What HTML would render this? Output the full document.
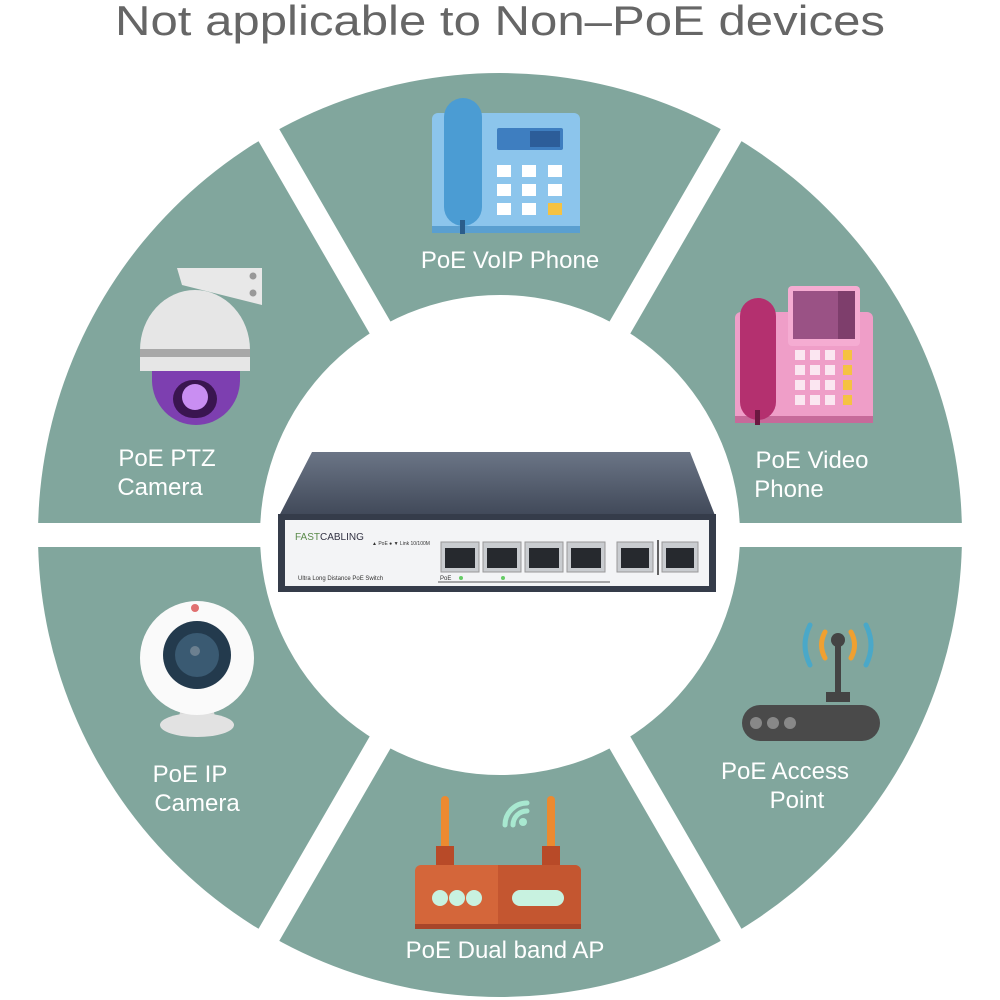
<!DOCTYPE html>
<html><head><meta charset="utf-8"><style>
html,body{margin:0;padding:0;background:#fff;}
svg{display:block;}
text{font-family:"Liberation Sans",sans-serif;}
</style></head><body>
<svg width="1000" height="1000" viewBox="0 0 1000 1000" xmlns="http://www.w3.org/2000/svg">
<defs>
<linearGradient id="lid" x1="0" y1="0" x2="0" y2="1"><stop offset="0" stop-color="#6b7586"/><stop offset="1" stop-color="#3f4757"/></linearGradient>
</defs>
<rect width="1000" height="1000" fill="#fff"/>
<text x="500" y="35" text-anchor="middle" font-size="42" fill="#666" textLength="770" lengthAdjust="spacingAndGlyphs">Not applicable to Non–PoE devices</text>
<!-- ring -->
<circle cx="500" cy="535" r="462" fill="#81a69d"/>
<circle cx="500" cy="535" r="240" fill="#fff"/>
<g stroke="#fff" stroke-width="24">
<line x1="0" y1="535" x2="1000" y2="535"/>
<line x1="500" y1="535" x2="500" y2="535" />
<line x1="211" y1="35" x2="789" y2="1035"/>
<line x1="789" y1="35" x2="211" y2="1035"/>
</g>
<rect x="0" y="0" width="1000" height="60" fill="#fff"/>
<text x="500" y="35" text-anchor="middle" font-size="42" fill="#666" textLength="770" lengthAdjust="spacingAndGlyphs">Not applicable to Non–PoE devices</text>

<!-- labels -->
<g fill="#fff" font-size="24" text-anchor="middle">
<text x="510" y="268">PoE VoIP Phone</text>
<text x="167" y="466">PoE PTZ</text><text x="160" y="495">Camera</text>
<text x="812" y="468">PoE Video</text><text x="789" y="497">Phone</text>
<text x="190" y="782">PoE IP</text><text x="197" y="811">Camera</text>
<text x="785" y="779">PoE Access</text><text x="797" y="808">Point</text>
<text x="505" y="958">PoE Dual band AP</text>
</g>

<!-- VoIP phone -->
<rect x="432" y="113" width="148" height="120" rx="6" fill="#8cc5ec"/>
<rect x="432" y="226" width="148" height="7" fill="#5a9fd0"/>
<rect x="444" y="98" width="38" height="128" rx="19" fill="#4b9cd3"/>
<rect x="460" y="220" width="5" height="14" fill="#2b5d8a"/>
<rect x="497" y="128" width="66" height="22" rx="2" fill="#3e7ec0"/>
<rect x="530" y="131" width="30" height="16" fill="#2c5d99"/>
<g fill="#fff">
<rect x="497" y="165" width="14" height="12"/><rect x="522" y="165" width="14" height="12"/>
<rect x="497" y="184" width="14" height="12"/><rect x="522" y="184" width="14" height="12"/><rect x="548" y="184" width="14" height="12"/>
<rect x="497" y="203" width="14" height="12"/><rect x="522" y="203" width="14" height="12"/>
</g>
<rect x="548" y="165" width="14" height="12" fill="#fff"/>
<rect x="548" y="203" width="14" height="12" fill="#f5c242"/>

<!-- PTZ camera -->
<polygon points="177,268 262,268 262,305 182,285" fill="#e8e8e8"/>
<circle cx="253" cy="276" r="3.5" fill="#999"/><circle cx="253" cy="293" r="3.5" fill="#999"/>
<path d="M140,350 A55,60 0 0 1 250,350 Z" fill="#e6e6e6"/>
<rect x="140" y="349" width="110" height="8" fill="#a8a8a8"/>
<rect x="140" y="357" width="110" height="14" fill="#e6e6e6"/>
<path d="M152,371 L240,371 L240,380 A44,45 0 0 1 152,380 Z" fill="#7d3fb0"/>
<rect x="173" y="380" width="44" height="38" rx="20" fill="#3a1550"/>
<circle cx="195" cy="397" r="13" fill="#c98ef2"/>

<!-- Video phone -->
<rect x="735" y="312" width="138" height="110" rx="6" fill="#ef9ec8"/>
<rect x="735" y="416" width="138" height="7" fill="#c76a9a"/>
<rect x="788" y="286" width="72" height="60" rx="4" fill="#f5acd2"/>
<rect x="793" y="291" width="62" height="48" fill="#9a5285"/>
<rect x="838" y="291" width="17" height="48" fill="#7e3e6c"/>
<rect x="740" y="298" width="36" height="122" rx="18" fill="#b4306f"/>
<rect x="755" y="410" width="5" height="15" fill="#6a1840"/>
<g fill="#fbe6f1">
<rect x="795" y="350" width="10" height="10"/><rect x="810" y="350" width="10" height="10"/><rect x="825" y="350" width="10" height="10"/>
<rect x="795" y="365" width="10" height="10"/><rect x="810" y="365" width="10" height="10"/><rect x="825" y="365" width="10" height="10"/>
<rect x="795" y="380" width="10" height="10"/><rect x="810" y="380" width="10" height="10"/><rect x="825" y="380" width="10" height="10"/>
<rect x="795" y="395" width="10" height="10"/><rect x="810" y="395" width="10" height="10"/><rect x="825" y="395" width="10" height="10"/>
</g>
<g fill="#f5c242">
<rect x="843" y="350" width="9" height="10"/><rect x="843" y="365" width="9" height="10"/><rect x="843" y="380" width="9" height="10"/><rect x="843" y="395" width="9" height="10"/>
</g>

<!-- Switch -->
<polygon points="312,452 690,452 716,518 278,518" fill="url(#lid)"/>
<rect x="278" y="514" width="438" height="78" fill="#353c4a"/>
<rect x="285" y="520" width="424" height="66" fill="#f3f4f6"/>
<text x="295" y="540" font-size="10" fill="#5a8a4a">FAST</text><text x="320" y="540" font-size="10" fill="#334">CABLING</text>
<text x="298" y="580" font-size="6" fill="#333">Ultra Long Distance PoE Switch</text>
<text x="372" y="545" font-size="5" fill="#333">▲ PoE ● ▼ Link 10/100M</text>
<g fill="#c9ccd0" stroke="#999" stroke-width="1">
<rect x="441" y="542" width="38" height="30"/><rect x="483" y="542" width="38" height="30"/>
<rect x="525" y="542" width="38" height="30"/><rect x="567" y="542" width="38" height="30"/>
<rect x="617" y="542" width="36" height="30"/><rect x="662" y="542" width="36" height="30"/>
</g>
<g fill="#26292e">
<rect x="445" y="548" width="30" height="20"/><rect x="487" y="548" width="30" height="20"/>
<rect x="529" y="548" width="30" height="20"/><rect x="571" y="548" width="30" height="20"/>
<rect x="621" y="548" width="28" height="20"/><rect x="666" y="548" width="28" height="20"/>
</g>
<line x1="438" y1="582" x2="610" y2="582" stroke="#555" stroke-width="1"/>
<line x1="658" y1="540" x2="658" y2="575" stroke="#333" stroke-width="1.5"/>
<text x="440" y="580" font-size="6" fill="#333">PoE</text>
<circle cx="461" cy="578" r="2" fill="#6c6"/><circle cx="503" cy="578" r="2" fill="#6c6"/>

<!-- IP camera -->
<path d="M182,705 L212,705 L216,720 L178,720 Z" fill="#d8d8d8"/>
<ellipse cx="197" cy="725" rx="37" ry="12" fill="#e2e2e2"/>
<circle cx="197" cy="658" r="57" fill="#fafafa"/>
<circle cx="197" cy="655" r="34" fill="#233a4d"/>
<circle cx="197" cy="655" r="22" fill="#3a5a72"/>
<circle cx="195" cy="651" r="5" fill="#6c8090"/>
<circle cx="195" cy="608" r="4" fill="#e07070"/>

<!-- Access point -->
<g fill="none" stroke-width="5" stroke-linecap="round">
<path d="M825,632 Q818,645 825,658" stroke="#f0a030"/><path d="M851,632 Q858,645 851,658" stroke="#f0a030"/>
<path d="M810,625 Q800,645 810,665" stroke="#4aa8c8"/><path d="M866,625 Q876,645 866,665" stroke="#4aa8c8"/>
</g>
<circle cx="838" cy="640" r="7" fill="#444"/>
<rect x="835" y="640" width="6" height="55" fill="#444"/>
<rect x="826" y="692" width="24" height="10" fill="#444"/>
<rect x="742" y="705" width="138" height="36" rx="18" fill="#4a4a4a"/>
<circle cx="756" cy="723" r="6" fill="#888"/><circle cx="773" cy="723" r="6" fill="#888"/><circle cx="790" cy="723" r="6" fill="#888"/>

<!-- Dual band router -->
<rect x="441" y="796" width="8" height="60" rx="4" fill="#ec8a30"/>
<rect x="547" y="796" width="8" height="60" rx="4" fill="#ec8a30"/>
<rect x="436" y="846" width="18" height="22" fill="#b84a28"/>
<rect x="542" y="846" width="18" height="22" fill="#b84a28"/>
<rect x="415" y="865" width="166" height="64" rx="6" fill="#d4663a"/>
<path d="M498,865 L575,865 A6,6 0 0 1 581,871 L581,923 A6,6 0 0 1 575,929 L498,929 Z" fill="#c45630"/>
<rect x="415" y="924" width="166" height="5" fill="#a8452a"/>
<g fill="#c8f2e0"><circle cx="440" cy="898" r="8"/><circle cx="457" cy="898" r="8"/><circle cx="474" cy="898" r="8"/></g>
<rect x="512" y="890" width="52" height="16" rx="8" fill="#c8f2e0"/>
<g fill="none" stroke="#a8e8d0" stroke-width="5" stroke-linecap="round">
<path d="M505,825 A22,22 0 0 1 527,803"/><path d="M513,825 A14,14 0 0 1 527,811"/>
</g>
<circle cx="523" cy="822" r="4" fill="#a8e8d0"/>
</svg>
</body></html>
